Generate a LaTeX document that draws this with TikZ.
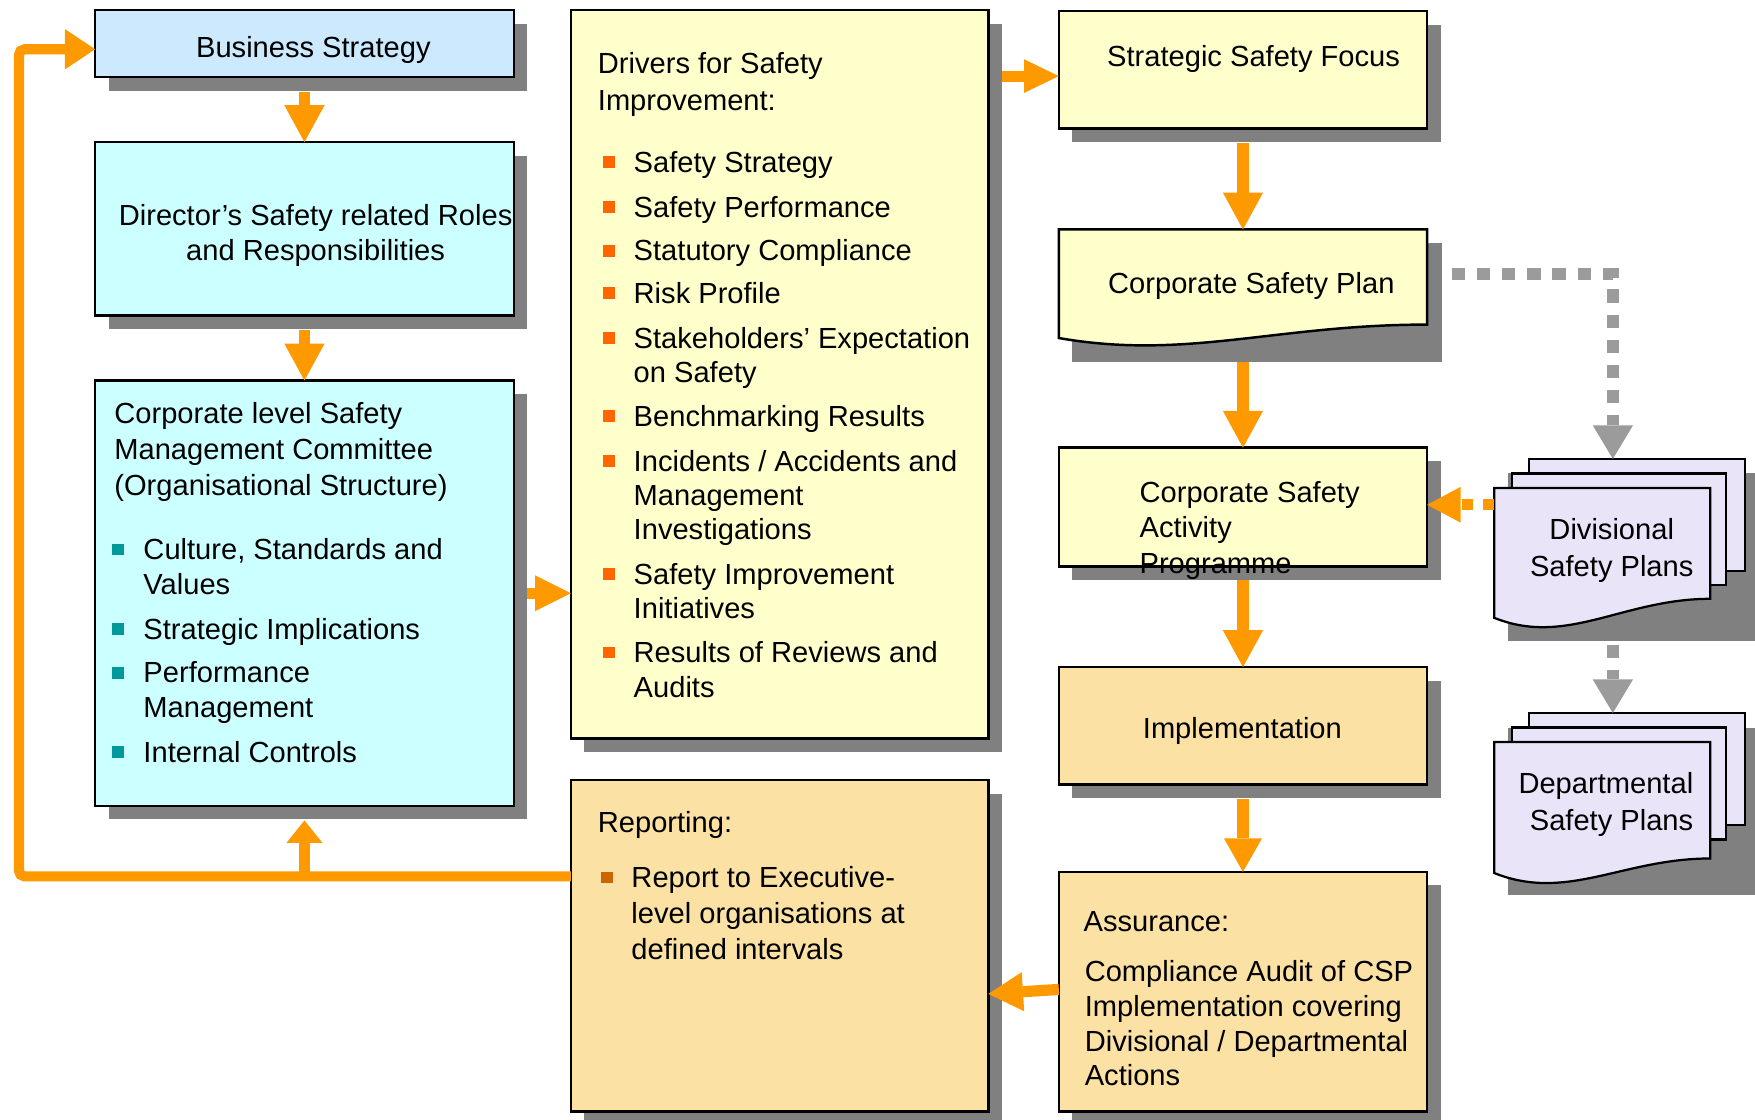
\documentclass[tikz,border=0pt]{standalone}
\usepackage{fontspec}
\setmainfont{Liberation Sans}
\usetikzlibrary{arrows.meta,shadows,calc}
\definecolor{orng}{HTML}{FF9900}
\definecolor{shd}{HTML}{808080}
\definecolor{bsblue}{HTML}{CCE9FD}
\definecolor{cyanf}{HTML}{CCFFFF}
\definecolor{yelf}{HTML}{FFFFCC}
\definecolor{tanf}{HTML}{FBE2A4}
\definecolor{lav}{HTML}{EAE4F9}
\definecolor{dotgray}{HTML}{9B9B9B}
\definecolor{tealb}{HTML}{009999}
\definecolor{bulor}{HTML}{FF6600}
\definecolor{bulbr}{HTML}{CC6600}
\begin{document}
\begin{tikzpicture}[x=1pt,y=-1pt,
  box/.style={draw=black, line width=2.2pt, anchor=north west, inner sep=0pt, outer sep=0pt,
    drop shadow={shadow xshift=12pt, shadow yshift=-12pt, fill=shd, opacity=1}},
  page/.style={draw=black, line width=2pt, anchor=north west, inner sep=0pt, outer sep=0pt, fill=lav},
  ghost/.style={anchor=north west, inner sep=0pt, outer sep=0pt},
  doc/.style={draw=black, line width=2.2pt, fill=#1, line join=miter},
  txt/.style={inner sep=0pt, font=\fontsize{26}{31}\selectfont, align=left, anchor=north west},
  ctxt/.style={inner sep=0pt, font=\fontsize{26}{31}\selectfont, anchor=base},
  bul/.style={inner sep=0pt, minimum size=10.5pt, fill=#1},
  bigarrow/.style={color=orng, line width=10pt, -{Triangle[width=36pt,length=33pt,line width=0pt]}},
  fbline/.style={color=orng, line width=9pt, rounded corners=5pt, -{Triangle[width=36pt,length=27pt,line width=0pt]}},
  uparrow/.style={color=orng, line width=10pt, -{Triangle[width=32pt,length=20pt,line width=0pt]}},
  dotarrow/.style={color=dotgray, line width=11pt, dash pattern=on 12pt off 10.5pt, -{Triangle[width=36pt,length=30pt,line width=0pt]}},
  dasharrow/.style={color=orng, line width=10pt, dash pattern=on 10pt off 9pt, -{Triangle[width=32pt,length=30pt,line width=0pt]}}
]
\useasboundingbox (0,0) rectangle (1568,1000);
\fill[white] (0,0) rectangle (1568,1000);

% left column
\node[box, fill=bsblue, minimum width=374pt, minimum height=60pt] (bs) at (85,9) {};
\node[box, fill=cyanf, minimum width=374pt, minimum height=155pt] (dr) at (85,127) {};
\node[box, fill=cyanf, minimum width=374pt, minimum height=380pt] (cl) at (85,340) {};
% middle column
\node[box, fill=yelf, minimum width=373pt, minimum height=651pt] (dv) at (510,9) {};
\node[box, fill=tanf, minimum width=373pt, minimum height=296pt] (rp) at (510,697) {};
% right column
\node[box, fill=yelf, minimum width=329pt, minimum height=105pt] (ssf) at (946,10) {};
\fill[shd] (958,217) rectangle (1288,323);
\node[ghost, minimum width=329pt, minimum height=97pt] (csp) at (946,205) {};
\draw[doc=yelf] (csp.north west) -- (csp.north east) -- ++(0,85) .. controls +(-135,0) and +(114,20) .. (csp.south west) -- cycle;
\node[box, fill=yelf, minimum width=329pt, minimum height=106pt] (csap) at (946,400) {};
\node[box, fill=tanf, minimum width=329pt, minimum height=105pt] (impl) at (946,596) {};
\node[box, fill=tanf, minimum width=329pt, minimum height=214pt] (as) at (946,779) {};

% divisional stack
\fill[shd] (1347,423) rectangle (1590,573);
\node[page, minimum width=193pt, minimum height=100pt] (dvb) at (1366,410) {};
\node[page, minimum width=191pt, minimum height=100pt] (dvm) at (1351,423) {};
\node[ghost, minimum width=193pt, minimum height=116pt] (dvf) at (1335,436) {};
\draw[doc=lav, line width=2pt] (dvf.north west) -- (dvf.north east) -- ++(0,99) .. controls +(-78,0) and +(65,26) .. (dvf.south west) -- cycle;
% departmental stack
\fill[shd] (1347,650) rectangle (1590,800);
\node[page, minimum width=193pt, minimum height=100pt] (dpb) at (1366,637) {};
\node[page, minimum width=191pt, minimum height=100pt] (dpm) at (1351,650) {};
\node[ghost, minimum width=193pt, minimum height=117pt] (dpf) at (1335,663) {};
\draw[doc=lav, line width=2pt] (dpf.north west) -- (dpf.north east) -- ++(0,104) .. controls +(-78,0) and +(65,26) .. (dpf.south west) -- cycle;

% connectors
\draw[bigarrow] ($(bs.south)+(0,13)$) -- (dr.north);
\draw[bigarrow] ($(dr.south)+(0,13)$) -- (cl.north);
\draw[bigarrow, -{Triangle[width=32pt,length=32pt,line width=0pt]}] ($(cl.east |- 0,530)+(12,0)$) -- (dv.west |- 0,530);
\draw[bigarrow, -{Triangle[width=30pt,length=31pt,line width=0pt]}] ($(dv.east |- 0,68)+(12,0)$) -- (ssf.west |- 0,68);
\draw[bigarrow] ($(ssf.south)+(0,13)$) -- (csp.north);
\draw[bigarrow] ($(csp.south)+(0,21)$) -- (csap.north);
\draw[bigarrow] ($(csap.south)+(0,12)$) -- (impl.north);
\draw[bigarrow, -{Triangle[width=34pt,length=30pt,line width=0pt]}] ($(impl.south)+(0,13)$) -- (as.north);
\draw[bigarrow, -{Triangle[width=35pt,length=31pt,line width=0pt]}] (as.west |- 0,884) -- (rp.east |- 0,888);
\draw[fbline] (rp.west |- 0,783) -- (17,783) -- (17,44) -- (bs.west |- 0,44);
\coordinate (fbj) at (272,783);
\draw[uparrow] (fbj) -- ($(cl.south)+(0,13)$);
\draw[dotarrow] ($(csp.east |- 0,245)+(22,0)$) -| (1441,0 |- dvb.north);
\coordinate (dvs) at (1441,576);
\draw[dotarrow] (dvs) -- (1441,0 |- dpb.north);
\draw[dasharrow] (dvf.west |- 0,451) -- (csap.east |- 0,451);

% texts
\node[ctxt] (bst) at (280,51) {Business Strategy};
\node[txt, align=center, anchor=north, font=\fontsize{26}{32}\selectfont] (drt) at (282,182) {Director’s Safety related Roles\\and Responsibilities};
\node[txt, font=\fontsize{26}{32.5}\selectfont] (clt) at (102,359) {Corporate level Safety\\Management Committee\\(Organisational Structure)};
\node[bul=tealb] (cb1) at (105.5,491) {};
\node[bul=tealb] (cb2) at (105.5,562) {};
\node[bul=tealb] (cb3) at (105.5,601) {};
\node[bul=tealb] (cb4) at (105.5,672) {};
\node[txt] (ci1) at (128,481) {Culture, Standards and\\Values};
\node[txt] (ci2) at (128,552) {Strategic Implications};
\node[txt] (ci3) at (128,591) {Performance\\Management};
\node[txt] (ci4) at (128,662) {Internal Controls};

\node[txt, font=\fontsize{26}{33}\selectfont] (dvt) at (534,47) {Drivers for Safety\\Improvement:};
\foreach \y [count=\i] in {145,185,224,262,302,372,412,513,583}
  \node[bul=bulor] (db\i) at (544,\y) {};
\node[txt] (di1) at (566,135) {Safety Strategy};
\node[txt] (di2) at (566,175) {Safety Performance};
\node[txt] (di3) at (566,214) {Statutory Compliance};
\node[txt] (di4) at (566,252) {Risk Profile};
\node[txt] (di5) at (566,292) {Stakeholders’ Expectation\\on Safety};
\node[txt] (di6) at (566,362) {Benchmarking Results};
\node[txt, font=\fontsize{26}{30.5}\selectfont] (di7) at (566,402) {Incidents / Accidents and\\Management\\Investigations};
\node[txt] (di8) at (566,503) {Safety Improvement\\Initiatives};
\node[txt] (di9) at (566,573) {Results of Reviews and\\Audits};

\node[txt] (rpt) at (534,725) {Reporting:};
\node[bul=bulbr] (rb1) at (542,784) {};
\node[txt, font=\fontsize{26}{32}\selectfont] (ri1) at (564,774) {Report to Executive-\\level organisations at\\defined intervals};

\node[ctxt] (ssft) at (1120,59) {Strategic Safety Focus};
\node[ctxt] (cspt) at (1118,262) {Corporate Safety Plan};
\node[txt, font=\fontsize{26}{31.5}\selectfont] (csapt) at (1018,430) {Corporate Safety\\Activity\\Programme};
\node[ctxt] (implt) at (1110,660) {Implementation};
\node[txt] (ast) at (968,814) {Assurance:};
\node[txt] (asi) at (969,858) {Compliance Audit of CSP\\Implementation covering\\Divisional / Departmental\\Actions};
\node[txt, align=center, anchor=north, font=\fontsize{26}{33}\selectfont] (dvft) at (1440,463) {Divisional\\Safety Plans};
\node[txt, align=right, anchor=north east, font=\fontsize{26}{33}\selectfont] (dpft) at (1513,690) {Departmental\\Safety Plans};
\end{tikzpicture}
\end{document}
